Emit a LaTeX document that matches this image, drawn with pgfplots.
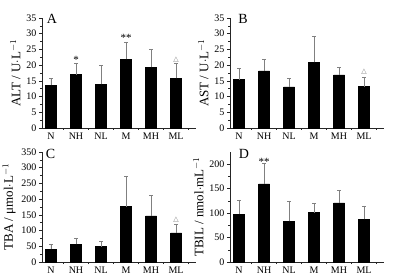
\documentclass[border=0pt]{standalone}
\usepackage{pgfplots}
\pgfplotsset{compat=1.18}
\usepackage{pgfplotstable}
\usepackage{fontspec}
\setmainfont{Liberation Serif}
\newfontfamily\dejavu{DejaVu Sans}

\pgfplotstableread{
x y e
0 13.6 2.2
1 17.0 3.5
2 13.9 6.1
3 21.8 5.6
4 19.3 5.8
5 15.8 4.8
}\dataA
\pgfplotstableread{
x y e
0 15.4 3.6
1 18.2 3.7
2 13.1 2.8
3 20.9 8.3
4 16.9 2.4
5 13.2 3.0
}\dataB
\pgfplotstableread{
x y e
0 40 18
1 56 19
2 49 16
3 176 96
4 147 64
5 93 26
}\dataC
\pgfplotstableread{
x y e
0 98 29
1 160 41
2 83 42
3 101 19
4 121 25
5 87 28
}\dataD

\pgfplotsset{
 panel/.style={
  scale only axis, width=154pt, height=110pt,
  axis x line*=bottom, axis y line*=left,
  axis line style={-, black!85, line width=0.6pt},
  xmin=-0.36, xmax=5.8,
  xtick={0,...,5}, xticklabels={N,NH,NL,M,MH,ML},
  major x tick style={draw=none},
  minor xtick={0.5,1.5,2.5,3.5,4.5,5.5},
  tick align=outside,
  ymin=0,
  tick style={black!85, line width=0.5pt},
  major tick length=3pt, minor tick length=2pt,
  minor y tick num=1,
  yticklabel style={font=\fontsize{10}{11}\selectfont, xshift=1pt},
  xticklabel style={font=\fontsize{10}{11}\selectfont, yshift=1.5pt},
  /pgf/number format/assume math mode=true,
  ylabel style={font=\fontsize{13}{14}\selectfont, yshift=-1pt},
  clip=false,
 },
 bars/.style={ybar, bar width=11pt, fill=black, draw=black,
   error bars/.cd, y dir=plus, y explicit,
   error bar style={gray, line width=0.5pt},
   error mark options={gray, rotate=90, mark size=1.6pt, line width=0.5pt}},
}
\tikzset{
 lbl/.style={font=\fontsize{14}{15}\selectfont},
 sig/.style={font=\fontsize{11}{12}\selectfont},
 tri/.style={font=\dejavu\fontsize{7}{8}\selectfont, gray},
}

\begin{document}
\begin{tikzpicture}
\useasboundingbox (0,0) rectangle (399pt,279pt);

% Panel A
\begin{axis}[panel, at={(42pt,151pt)}, anchor=south west,
  ymax=35, ytick={0,5,...,35},
  ylabel={ALT / U$\cdot$L$^{-1}$}]
\addplot[bars] table[x=x, y=y, y error=e] {\dataA};
\node[lbl] at (rel axis cs:0.065,0.99) {A};
\node[sig] at (axis cs:1,21.6) {*};
\node[sig] at (axis cs:3,28.6) {**};
\node[tri] at (axis cs:5,21.8) {△};
\end{axis}

% Panel B
\begin{axis}[panel, at={(230pt,151pt)}, anchor=south west,
  ymax=35, ytick={0,5,...,35},
  ylabel={AST / U$\cdot$L$^{-1}$}]
\addplot[bars] table[x=x, y=y, y error=e] {\dataB};
\node[lbl] at (rel axis cs:0.085,0.99) {B};
\node[tri] at (axis cs:5,17.9) {△};
\end{axis}

% Panel C
\begin{axis}[panel, at={(42pt,17pt)}, anchor=south west,
  ymax=350, ytick={0,50,...,350},
  ylabel={TBA / μmol$\cdot$L$^{-1}$}]
\addplot[bars] table[x=x, y=y, y error=e] {\dataC};
\node[lbl] at (rel axis cs:0.055,0.98) {C};
\node[tri] at (axis cs:5,136) {△};
\end{axis}

% Panel D
\begin{axis}[panel, at={(230pt,17pt)}, anchor=south west,
  ymax=225, ytick={0,50,...,200},
  ylabel={TBIL / nmol$\cdot$mL$^{-1}$}]
\addplot[bars] table[x=x, y=y, y error=e] {\dataD};
\node[lbl] at (rel axis cs:0.09,0.98) {D};
\node[sig] at (axis cs:1,204) {**};
\end{axis}
\end{tikzpicture}
\end{document}
